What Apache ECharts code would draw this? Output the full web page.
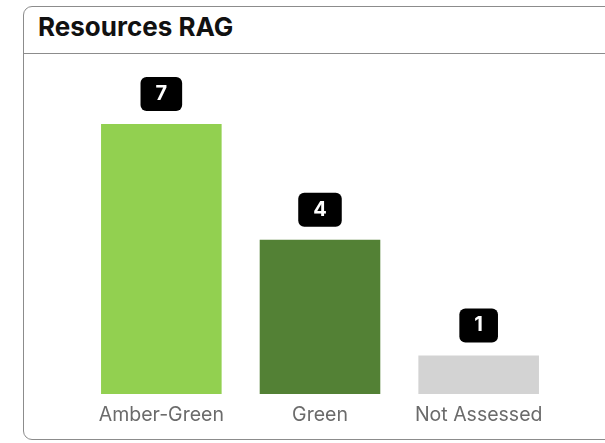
<!DOCTYPE html>
<html>
<head>
<meta charset="utf-8">
<script src="https://cdn.jsdelivr.net/npm/echarts@6/dist/echarts.min.js"></script>
<style>
html,body{margin:0;padding:0;background:#fff;width:605px;height:443px;overflow:hidden;}
#card{position:absolute;left:23px;top:6px;width:640px;height:434px;border:1.5px solid #8c8c8c;border-radius:9px;box-sizing:border-box;}
#hdr{position:absolute;left:0;top:0;right:0;height:46px;border-bottom:1.5px solid #8c8c8c;}
#ttl{position:absolute;left:14px;top:7px;line-height:26px;font-family:Inter,sans-serif;font-weight:700;font-size:26px;color:#111;}
#chart{position:absolute;left:0;top:0;width:605px;height:443px;}
</style>
</head>
<body>
<div id="card"><div id="hdr"><div id="ttl">Resources RAG</div></div></div>
<div id="chart"></div>
<script>
const categories = ['Amber-Green', 'Green', 'Not Assessed'];
const values = [7, 4, 1];
const colors = ['#92D050', '#538135', '#D3D3D3'];

const chart = echarts.init(document.getElementById('chart'), null, {renderer: 'canvas'});
chart.setOption({
  animation: false,
  backgroundColor: 'transparent',
  grid: {left: 82, right: 47, top: 85.4, bottom: 49, containLabel: false},
  xAxis: {
    type: 'category',
    data: categories,
    axisLine: {show: false},
    axisTick: {show: false},
    axisLabel: {interval: 0, hideOverlap: false, color: '#6b6b6b', fontSize: 19.5, fontFamily: 'Inter, sans-serif', margin: 11}
  },
  yAxis: {
    type: 'value', min: 0, max: 8, show: false, splitLine: {show: false}
  },
  series: [{
    type: 'bar',
    barWidth: '76%',
    data: values.map((v, i) => ({value: v, itemStyle: {color: colors[i]}})),
    label: {
      show: true,
      position: 'top',
      distance: 13,
      color: '#fff',
      fontWeight: 'bold',
      fontSize: 20,
      lineHeight: 20,
      fontFamily: 'Inter, sans-serif',
      backgroundColor: '#000',
      borderRadius: 6,
      padding: [7, 15, 7, 15]
    }
  }]
});
</script>
</body>
</html>
